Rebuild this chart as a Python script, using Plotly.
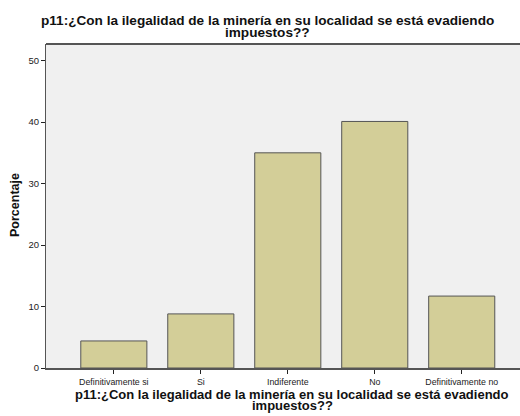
import plotly.graph_objects as go

categories = ["Definitivamente si", "Si", "Indiferente", "No", "Definitivamente no"]
values = [4.4, 8.8, 35.0, 40.1, 11.7]
y_ticks = [0, 10, 20, 30, 40, 50]
title_l1 = "p11:¿Con la ilegalidad de la minería en su localidad se está evadiendo"
title_l2 = "impuestos??"
y_title = "Porcentaje"

fig = go.Figure(go.Bar(
    x=list(range(len(categories))), y=values, width=0.76,
    marker=dict(color="#D3CE98", line=dict(color="#555555", width=1)),
))

font = "Liberation Sans, Arial, sans-serif"
fig.update_layout(
    width=520, height=416,
    margin=dict(l=46, r=0, t=44, b=48),
    paper_bgcolor="white", plot_bgcolor="#F0F0F0",
    showlegend=False,
    font=dict(family=font, color="#222222"),
)
fig.update_xaxes(
    range=[-0.78, 4.67], tickmode="array",
    tickvals=list(range(len(categories))), ticktext=categories,
    ticks="outside", ticklen=4, tickcolor="#222222", tickfont=dict(size=8.8, color="#222222"),
    showline=True, linecolor="#555555", linewidth=2, showgrid=False, zeroline=False,
    automargin=False,
)
fig.update_yaxes(
    range=[0, 52.7], tickvals=y_ticks, ticks="outside", ticklen=4,
    tickcolor="#222222", tickfont=dict(size=9.5, color="#222222"),
    showline=True, linecolor="#555555", linewidth=1, showgrid=False, zeroline=False,
    mirror=False, automargin=False,
)
# top border line
fig.add_shape(type="line", xref="paper", yref="paper", x0=0, x1=1, y0=1, y1=1,
              line=dict(color="#555555", width=2))

anns = [
    dict(text="<b>%s</b>" % title_l1, x=267, y=21, size=13.6),
    dict(text="<b>%s</b>" % title_l2, x=267, y=32, size=13.6),
    dict(text="<b>%s</b>" % title_l1, x=292, y=394, size=13.0),
    dict(text="<b>%s</b>" % title_l2, x=292, y=405, size=13.0),
]
for a in anns:
    fig.add_annotation(
        text=a["text"], xref="paper", yref="paper",
        x=(a["x"] - 46) / (520 - 46),
        y=(368 - a["y"]) / (368 - 44),
        showarrow=False, xanchor="center", yanchor="middle",
        font=dict(size=a["size"], family=font, color="#111111"),
    )
fig.add_annotation(
    text="<b>%s</b>" % y_title, xref="paper", yref="paper",
    x=(15 - 46) / (520 - 46), y=(368 - 205) / (368 - 44), textangle=-90,
    showarrow=False, xanchor="center", yanchor="middle",
    font=dict(size=12.5, family=font, color="#111111"),
)

fig.write_html("out.html", config={"displayModeBar": False},
               post_script="document.body.style.margin='0';document.body.style.padding='0';"
                           "document.body.style.overflow='hidden';")
